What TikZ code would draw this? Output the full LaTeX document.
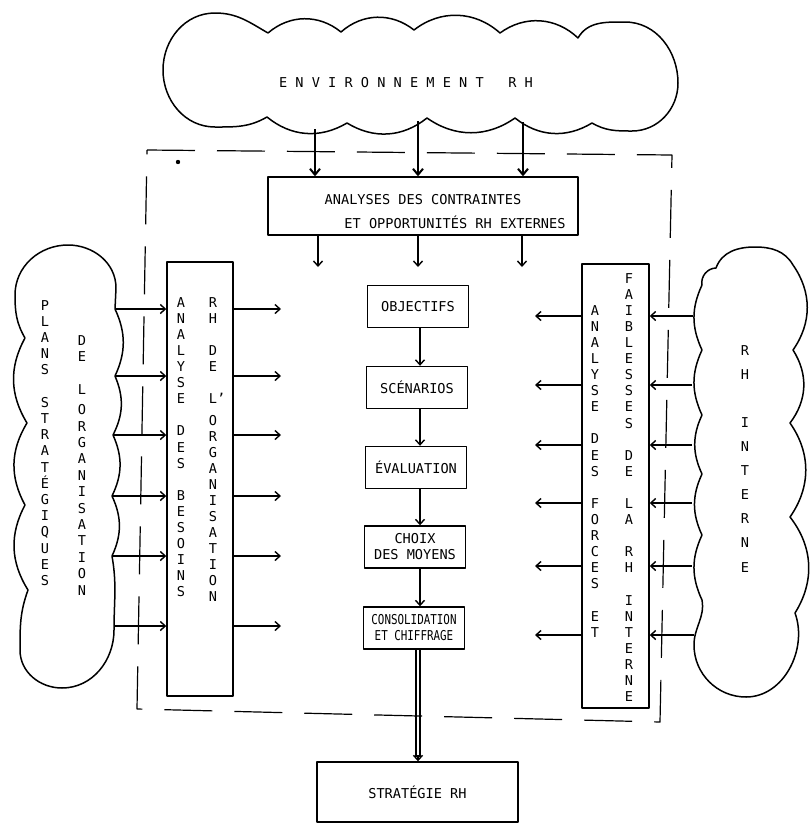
\documentclass[tikz,border=0pt]{standalone}
\usepackage{fontspec}
\setmainfont{DejaVu Sans Mono}
\usepackage{graphicx}
\usetikzlibrary{arrows.meta}
\begin{document}
\begin{tikzpicture}[x=1pt,y=-1pt,line join=round,
  cloud/.style={draw,line width=1.5pt},
  box/.style={draw,line width=1.4pt,inner sep=0pt},
  arr/.style={line width=1.4pt,-{Straight Barb[length=5pt,width=9pt]}},
  bigarr/.style={line width=2pt,-{Straight Barb[length=6pt,width=10pt]}},
  frame/.style={draw,line width=1.2pt,dash pattern=on 48pt off 22pt},
  txt/.style={font=\fontsize{13.6}{16}\selectfont,inner sep=0pt},
  vt/.style={font=\fontsize{13.6}{16.1}\selectfont,align=center,inner sep=0pt,anchor=north}]
\useasboundingbox (0,0) rectangle (812,823);

% ---- top cloud
\draw[cloud] (268,33) to[bend left=40] (341,32) to[bend left=40] (414,30)
  to[bend left=40] (500,33) to[bend left=40] (578,38)
  to[out=60,in=180] (625,22) to[out=0,in=90] (678,83) to[out=-90,in=0] (632,131)
  to[out=180,in=-30] (592,123)
  to[bend left=35] (515,118) to[bend left=35] (427,118) to[bend left=35] (347,123)
  to[bend left=35] (267,117)
  to[out=-150,in=0] (215,127) to[out=180,in=-90] (163,70) to[out=90,in=180] (215,13)
  to[out=0,in=150] (268,33);
\node[txt] (env) at (406,83) {E~N~V~I~R~O~N~N~E~M~E~N~T~~~R~H};

% ---- left cloud
\draw[cloud] (25,338) to[out=120,in=-90] (15,295) to[out=90,in=180] (68,245)
  to[out=0,in=90] (116,288) -- (115,309)
  to[bend left=25] (115,376) to[bend left=25] (113,435) to[bend left=25] (112,496)
  to[bend left=25] (112,556)
  to[out=-80,in=90] (114,630) to[out=-90,in=0] (62,688) to[out=180,in=-90] (20,650)
  to[out=90,in=-110] (28,590)
  to[bend left=30] (25,505) to[bend left=30] (27,423) to[bend left=30] (25,338);
\node[vt,font=\fontsize{13.6}{16.2}\selectfont] (plans) at (45,300)
  {P\\L\\A\\N\\S\\~\\S\\T\\R\\A\\T\\É\\G\\I\\Q\\U\\E\\S};
\node[vt,font=\fontsize{13.6}{16.4}\selectfont] (deorg) at (82,335)
  {D\\E\\~\\L\\[4pt]O\\R\\G\\A\\N\\I\\S\\A\\T\\I\\O\\N};

% ---- right cloud
\draw[cloud] (702,285) to[bend left=50] (716,268) to[out=70,in=180] (755,247)
  to[out=0,in=120] (793,265)
  to[bend left=35] (793,350) to[bend left=35] (790,423) to[bend left=35] (790,517)
  to[bend left=35] (795,613)
  to[out=-70,in=0] (746,697) to[out=180,in=-90] (694,645) to[out=90,in=-80] (702,600)
  to[bend left=25] (702,535) to[bend left=25] (702,474) to[bend left=25] (702,415)
  to[bend left=25] (702,350) to[bend left=25] (702,285);
\node[vt,font=\fontsize{13.6}{24.1}\selectfont] (rhint) at (745,345)
  {R\\H\\~\\I\\N\\T\\E\\R\\N\\E};

% ---- dashed frame
\draw[frame] (147,150) -- (672,155) -- (660,722) -- (137,709) -- cycle;
\fill (178,162) circle[radius=2.2pt];

% ---- external analysis box
\node[box,minimum width=310pt,minimum height=58pt] (ext) at (423,206) {};
\node[txt] (ext1) at (423,200) {ANALYSES DES CONTRAINTES};
\node[txt] (ext2) at (455,222) {ET OPPORTUNITÉS RH EXTERNES};

\coordinate (c1) at (315,129);
\coordinate (c2) at (418,121);
\coordinate (c3) at (523,122);
\foreach \c in {c1,c2,c3} \draw[bigarr] (\c) -- (ext.north -| \c);
\coordinate (d1) at (318,267);
\coordinate (d2) at (418,267);
\coordinate (d3) at (522,267);
\foreach \d in {d1,d2,d3} \draw[arr] (ext.south -| \d) -- (\d);

% ---- left box
\node[box,minimum width=66pt,minimum height=434pt] (lbox) at (200,479) {};
\node[vt] (besoins) at (181,297)
  {A\\N\\A\\L\\Y\\S\\E\\~\\D\\E\\S\\~\\B\\E\\S\\O\\I\\N\\S};
\node[vt,font=\fontsize{13.6}{16}\selectfont] (rhorg) at (213,297)
  {R\\H\\~\\D\\E\\~\\L\rlap{'}\\[6pt]O\\R\\G\\A\\N\\I\\S\\A\\T\\I\\O\\N};

% ---- right box
\node[box,minimum width=67pt,minimum height=444pt] (rbox) at (615.5,486) {};
\node[vt] (forces) at (595,305)
  {A\\N\\A\\L\\Y\\S\\E\\~\\D\\E\\S\\~\\F\\O\\R\\C\\E\\S\\~\\E\\T};
\node[vt] (faib) at (629,273)
  {F\\A\\I\\B\\L\\E\\S\\S\\E\\S\\~\\D\\E\\~\\L\\A\\~\\R\\H\\~\\I\\N\\T\\E\\R\\N\\E};

% ---- left arrows
\coordinate (lc1) at (115,309);
\coordinate (lc2) at (115,376);
\coordinate (lc3) at (113,435);
\coordinate (lc4) at (112,496);
\coordinate (lc5) at (112,556);
\coordinate (lc6) at (114,626);
\foreach \i in {1,...,6} {
  \draw[arr] (lc\i) -- (lbox.west |- lc\i);
  \coordinate (lo\i) at (281,0 |- lc\i);
  \draw[arr] (lbox.east |- lc\i) -- (lo\i);
}

% ---- right arrows
\coordinate (rc1) at (693,316);
\coordinate (rc2) at (692,385);
\coordinate (rc3) at (692,445);
\coordinate (rc4) at (692,503);
\coordinate (rc5) at (692,566);
\coordinate (rc6) at (694,635);
\foreach \i in {1,...,6} {
  \draw[arr] (rc\i) -- (rbox.east |- rc\i);
  \coordinate (ro\i) at (535,0 |- rc\i);
  \draw[arr] (rbox.west |- rc\i) -- (ro\i);
}

% ---- central chain
\tikzset{cbox/.style={box,font=\fontsize{13.6}{16}\selectfont,minimum width=101pt,minimum height=42pt,align=center}}
\node[cbox] (obj) at (418,306.5) {OBJECTIFS};
\node[cbox] (sce) at (417,387.5) {SCÉNARIOS};
\node[cbox] (eva) at (416,467.5) {ÉVALUATION};
\node[cbox] (cho) at (415,547) {CHOIX\\DES MOYENS};
\node[cbox] (con) at (414,628) {\scalebox{0.8}[1]{CONSOLIDATION}\\\scalebox{0.8}[1]{ET CHIFFRAGE}};
\draw[arr] (obj.south -| 420,0) -- (sce.north -| 420,0);
\draw[arr] (sce.south -| 420,0) -- (eva.north -| 420,0);
\draw[arr] (eva.south -| 420,0) -- (cho.north -| 420,0);
\draw[arr] (cho.south -| 420,0) -- (con.north -| 420,0);

\node[box,font=\fontsize{13.6}{16}\selectfont,minimum width=201pt,minimum height=60pt] (str) at (417.5,792) {STRATÉGIE RH};
\draw[line width=1.1pt] (con.south -| 416,0) -- ([yshift=4pt]str.north -| 416,0);
\draw[line width=1.1pt] (con.south -| 420,0) -- ([yshift=4pt]str.north -| 420,0);
\draw[arr] ([yshift=6pt]str.north -| 418,0) -- (str.north -| 418,0);
\end{tikzpicture}
\end{document}
